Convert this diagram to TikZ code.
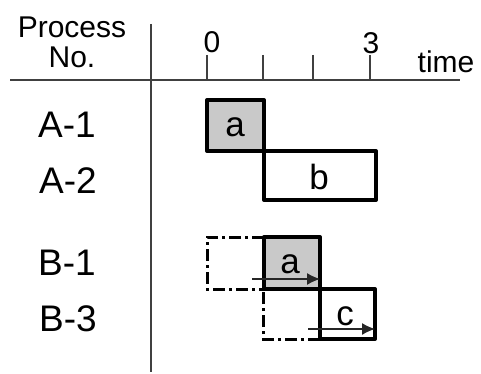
\documentclass[tikz,border=0pt]{standalone}
\usepackage{fontspec}
\setmainfont{Liberation Sans}
\usetikzlibrary{arrows.meta}
\begin{document}
\begin{tikzpicture}[x=1pt,y=-1pt,
  axis/.style={draw=black!75,line width=1.1pt},
  hdr/.style={font=\fontsize{30}{34}\selectfont,inner sep=0pt},
  rowlbl/.style={font=\fontsize{37}{40}\selectfont,inner sep=0pt},
  boxlbl/.style={font=\fontsize{35}{38}\selectfont,inner sep=0pt},
  jobbox/.style={draw=black,line width=4pt,line join=round},
  done/.style={jobbox,fill=black!21},
  shifted/.style={draw=black,line width=3pt,dash pattern=on 12pt off 4pt on 3pt off 4pt},
  move/.style={draw=black!85,line width=1.3pt,-{Latex[length=13pt,width=12pt]}}]
\useasboundingbox (0,0) rectangle (481,374);
% axes
\coordinate (hl) at (10,80);
\coordinate (hr) at (460,80);
\coordinate (vt) at (151,24);
\coordinate (vb) at (151,372);
\draw[axis] (hl) -- (hr);
\draw[axis] (vt) -- (vb);
\foreach \x/\n in {207/t0,263/t1,313/t2,370/t3}{
  \coordinate (\n a) at (\x,55);
  \coordinate (\n b) at (\x,80);
  \draw[axis] (\n a) -- (\n b);
}
% header
\node[hdr] (proc) at (72,27) {Process};
\node[hdr] (no) at (72,57) {No.};
\node[hdr,anchor=base] (l0) at (212,53) {0};
\node[hdr,anchor=base] (l3) at (371,54) {3};
\node[hdr,anchor=base] (time) at (446,73) {time};
% row labels
\node[rowlbl] (A1) at (67,125) {A-1};
\node[rowlbl] (A2) at (68,181) {A-2};
\node[rowlbl] (B1) at (67,263) {B-1};
\node[rowlbl] (B3) at (68,319) {B-3};
% A boxes
\draw[done] (207,100) rectangle (264,151);
\node[boxlbl] (a1) at (235,127) {a};
\draw[jobbox] (264,151) rectangle (376,200);
\node[boxlbl] (b2) at (319,177) {b};
% B boxes
\draw[shifted] (264,237) -- (207,237) -- (207,289) -- (264,289);
\draw[shifted] (320,339) -- (263,339) -- (263,289);
\draw[done] (264,237) rectangle (320,289);
\node[boxlbl] (a3) at (290,264) {a};
\draw[jobbox] (320,289) rectangle (375,339);
\node[boxlbl] (c4) at (345,316) {c};
\coordinate (m1s) at (252,279);
\coordinate (m1e) at (320,279);
\coordinate (m2s) at (308,329);
\coordinate (m2e) at (375,329);
\draw[move] (m1s) -- (m1e);
\draw[move] (m2s) -- (m2e);
\end{tikzpicture}
\end{document}
